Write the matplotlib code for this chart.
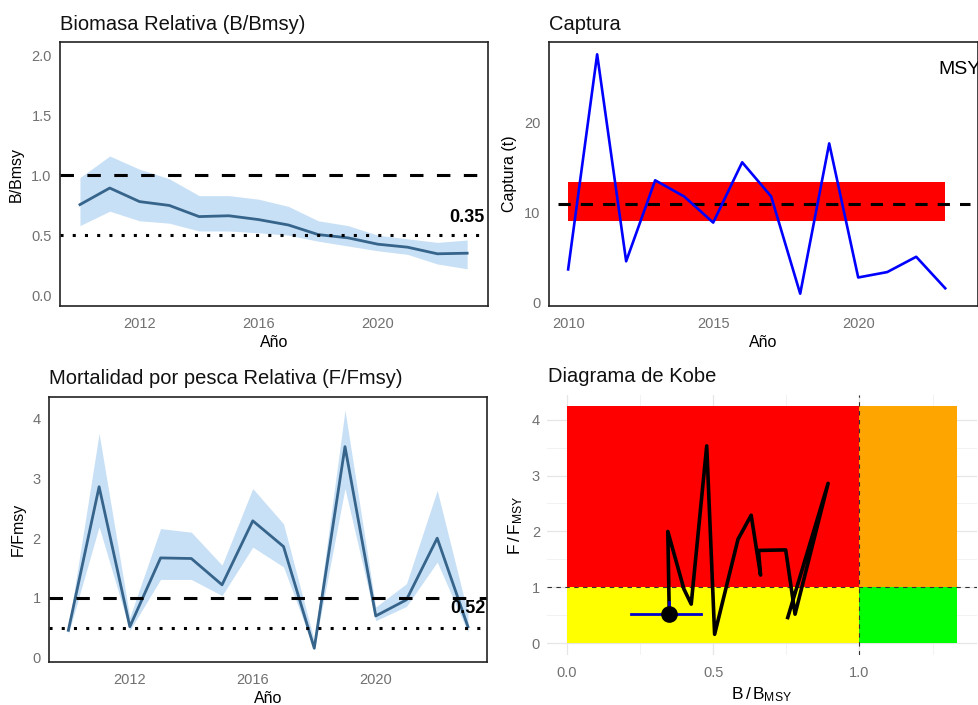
import numpy as np
import matplotlib
matplotlib.use("Agg")
import matplotlib.pyplot as plt
from matplotlib.ticker import FixedLocator

plt.rcParams["font.family"] = ["Liberation Sans", "DejaVu Sans"]
plt.rcParams["mathtext.fontset"] = "custom"
plt.rcParams["mathtext.rm"] = "Liberation Sans"
plt.rcParams["mathtext.it"] = "Liberation Sans"
plt.rcParams["mathtext.default"] = "regular"

# ---- data ----
years = np.arange(2010, 2024)

b_rel = [0.755, 0.893, 0.78, 0.748, 0.655, 0.662, 0.63, 0.585, 0.505, 0.478, 0.425, 0.40, 0.345, 0.35]
b_lo = [0.58, 0.70, 0.62, 0.60, 0.535, 0.535, 0.52, 0.50, 0.45, 0.41, 0.37, 0.34, 0.26, 0.22]
b_hi = [0.98, 1.16, 1.05, 0.97, 0.83, 0.83, 0.80, 0.74, 0.62, 0.58, 0.50, 0.47, 0.44, 0.46]

f_rel = [0.46, 2.86, 0.52, 1.67, 1.66, 1.22, 2.29, 1.86, 0.16, 3.53, 0.70, 0.97, 2.00, 0.52]
f_lo = [0.40, 2.19, 0.46, 1.31, 1.31, 1.04, 1.85, 1.52, 0.14, 2.83, 0.62, 0.86, 1.60, 0.43]
f_hi = [0.50, 3.75, 0.68, 2.16, 2.10, 1.55, 2.83, 2.24, 0.29, 4.14, 0.85, 1.24, 2.80, 0.74]

catch = [3.7, 27.6, 4.6, 13.6, 11.8, 8.9, 15.6, 11.8, 1.0, 17.7, 2.8, 3.4, 5.1, 1.6]
msy = 11.0
msy_lo = 9.1
msy_hi = 13.4

b_ref_target = 1.0
b_ref_limit = 0.5
f_ref_target = 1.0
f_ref_limit = 0.5

# ---- styling ----
LINE_BLUE = "#36648B"
RIBBON = "#c8e0f6"
TICK_GRAY = "#707070"
W, H = 979, 705

fig = plt.figure(figsize=(W / 100, H / 100), dpi=100)


def box(x0, y0, x1, y1):
    """Axes rectangle from pixel edges (top-left origin)."""
    return [x0 / W, 1 - y1 / H, (x1 - x0) / W, (y1 - y0) / H]


def style_framed(ax):
    for s in ax.spines.values():
        s.set_linewidth(1.2)
        s.set_color("#222222")
    ax.tick_params(axis="y", length=0, labelsize=10.5, labelcolor=TICK_GRAY, pad=6)
    ax.tick_params(axis="x", length=0, labelsize=10.5, labelcolor=TICK_GRAY, pad=8)


def title(x, y, text):
    fig.text(x / W, 1 - y / H, text, fontsize=14.5, ha="left", va="center", color="#111111")


# ---- Biomasa relativa ----
ax1 = fig.add_axes(box(60, 42, 488, 306))
ax1.fill_between(years, b_lo, b_hi, color=RIBBON, lw=0)
ax1.plot(years, b_rel, color=LINE_BLUE, lw=2.0)
ax1.axhline(b_ref_target, color="black", lw=2.2, dashes=(4.4, 4.4))
ax1.axhline(b_ref_limit, color="black", lw=2.2, dashes=(1, 3))
ax1.text(years[-1], b_rel[-1] + 0.3, f"{b_rel[-1]:.2f}", fontsize=13, fontweight="bold",
         ha="center", va="center")
ax1.set_xlim(2009.33, 2023.7)
ax1.set_ylim(-0.09, 2.11)
ax1.set_yticks([0, 0.5, 1.0, 1.5, 2.0])
ax1.set_yticklabels(["0.0", "0.5", "1.0", "1.5", "2.0"])
ax1.set_xticks([2012, 2016, 2020])
style_framed(ax1)
ax1.set_xlabel("Año", fontsize=11.5, labelpad=3)
ax1.set_ylabel("B/Bmsy", fontsize=11.5, labelpad=5)
title(60, 24, "Biomasa Relativa (B/Bmsy)")

# ---- Captura ----
ax2 = fig.add_axes(box(549, 42, 978, 306))
ax2.fill_between([years[0], years[-1]], msy_lo, msy_hi, color="#ff0000", lw=0)
ax2.plot([2009.65, 2023.85], [msy, msy], color="black", lw=2.2, dashes=(4, 3.3))
ax2.plot(years, catch, color="#0000ff", lw=1.9)
ax2.text(2022.78, 25.9, "MSY", fontsize=14, ha="left", va="center", clip_on=True)
ax2.set_xlim(2009.34, 2024.13)
ax2.set_ylim(-0.37, 28.97)
ax2.set_xticks([2010, 2015, 2020])
ax2.set_yticks([0, 10, 20])
style_framed(ax2)
ax2.set_xlabel("Año", fontsize=11.5, labelpad=3)
ax2.set_ylabel("Captura (t)", fontsize=11.5, labelpad=5)
title(549, 24, "Captura")

# ---- Mortalidad por pesca relativa ----
ax3 = fig.add_axes(box(49, 397, 487, 662))
ax3.fill_between(years, f_lo, f_hi, color=RIBBON, lw=0)
ax3.plot(years, f_rel, color=LINE_BLUE, lw=2.0)
ax3.axhline(f_ref_target, color="black", lw=2.2, dashes=(4.4, 4.4))
ax3.axhline(f_ref_limit, color="black", lw=2.2, dashes=(1, 3))
ax3.text(years[-1], f_rel[-1] + 0.3, f"{f_rel[-1]:.2f}", fontsize=13, fontweight="bold",
         ha="center", va="center")
ax3.set_xlim(2009.37, 2023.62)
ax3.set_ylim(-0.07, 4.36)
ax3.set_yticks([0, 1, 2, 3, 4])
ax3.set_xticks([2012, 2016, 2020])
style_framed(ax3)
ax3.set_xlabel("Año", fontsize=11.5, labelpad=3)
ax3.set_ylabel("F/Fmsy", fontsize=11.5, labelpad=5)
title(49, 378, "Mortalidad por pesca Relativa (F/Fmsy)")

# ---- Diagrama de Kobe ----
ax4 = fig.add_axes(box(547, 395, 977, 655))
b_max = max(b_hi) * 1.15
f_max = max(f_rel) * 1.2
ax4.fill_between([0, 1], 1, f_max, color="#ff0000", lw=0, zorder=1)
ax4.fill_between([1, b_max], 1, f_max, color="#ffa500", lw=0, zorder=1)
ax4.fill_between([0, 1], 0, 1, color="#ffff00", lw=0, zorder=1)
ax4.fill_between([1, b_max], 0, 1, color="#00ff00", lw=0, zorder=1)
ax4.axhline(1, color="#333333", lw=0.8, dashes=(4, 4), zorder=2)
ax4.axvline(1, color="#333333", lw=0.8, dashes=(4, 4), zorder=2)
ax4.plot(b_rel, f_rel, color="black", lw=2.6, zorder=3, solid_joinstyle="round")
ax4.plot([b_lo[-1], b_hi[-1]], [f_rel[-1], f_rel[-1]], color="#0000cc", lw=2.0, zorder=4)
ax4.plot([b_rel[-1], b_rel[-1]], [f_lo[-1], f_hi[-1]], color="#0000cc", lw=2.0, zorder=4)
ax4.plot([b_rel[-1]], [f_rel[-1]], "o", color="black", ms=11, zorder=5)
ax4.set_xlim(-0.068, 1.402)
ax4.set_ylim(-0.21, 4.44)
ax4.set_xticks([0, 0.5, 1.0])
ax4.set_xticklabels(["0.0", "0.5", "1.0"])
ax4.set_yticks([0, 1, 2, 3, 4])
ax4.xaxis.set_minor_locator(FixedLocator([0.25, 0.75, 1.25]))
ax4.yaxis.set_minor_locator(FixedLocator([0.5, 1.5, 2.5, 3.5]))
ax4.grid(True, which="major", color="#e6e6e6", lw=0.9, zorder=0)
ax4.grid(True, which="minor", color="#f0f0f0", lw=0.6, zorder=0)
ax4.set_axisbelow(True)
for s in ax4.spines.values():
    s.set_visible(False)
ax4.tick_params(axis="y", which="both", length=0, labelsize=10.5, labelcolor=TICK_GRAY, pad=5)
ax4.tick_params(axis="x", which="both", length=0, labelsize=10.5, labelcolor=TICK_GRAY, pad=8)
ax4.set_xlabel(r"$B\,/\,B_{MSY}$", fontsize=12.5, labelpad=4)
ax4.set_ylabel(r"$F\,/\,F_{MSY}$", fontsize=12.5, labelpad=5)
title(548, 377, "Diagrama de Kobe")

fig.savefig("out.png", dpi=100)
